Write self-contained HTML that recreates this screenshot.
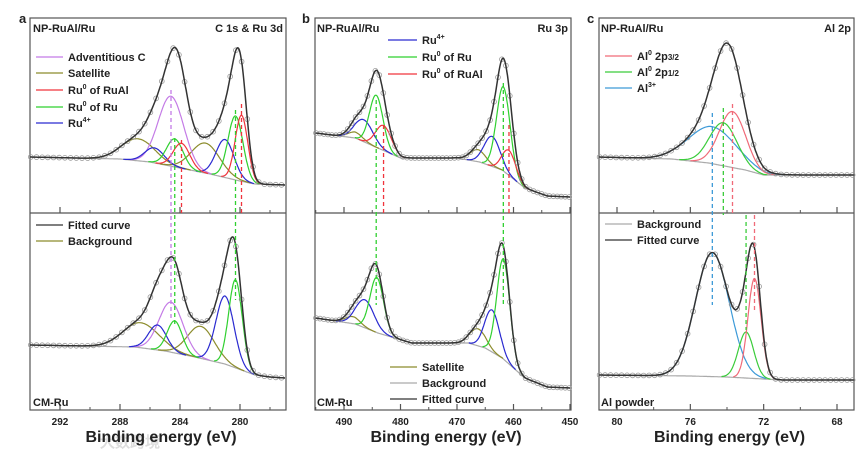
<!DOCTYPE html>
<html><head><meta charset="utf-8">
<style>
html,body{margin:0;padding:0;background:#fff;}
svg{display:block;font-family:"Liberation Sans",Arial,sans-serif;}
text{font-weight:bold;fill:#222;}
</style></head>
<body>
<svg id="fig" width="861" height="455" viewBox="0 0 861 455" xmlns="http://www.w3.org/2000/svg">
<text x="100" y="447" font-size="15" style="fill:#ddd">大数跨境</text>
</svg>
<script>
// ---------- DATA (intensity in arbitrary units) ----------
const aTopBgE = [294, 288, 286, 284, 282, 280, 279, 277];
const aTopBgI = [43, 41, 38, 32, 26, 19, 16, 15];
const aTopAdv = [[284.6, 70, 0.85]];
const aTopSat = [[286.8, 22, 1.1], [282.3, 30, 0.95]];
const aTopRuAl = [[283.9, 25, 0.55], [279.9, 66, 0.42]];
const aTopRu = [[284.35, 28, 0.55], [280.3, 64, 0.5]];
const aTopRu4 = [[285.7, 15, 0.65], [281.0, 38, 0.6]];
const aBotBgE = [294, 287, 285, 283, 281, 279, 278, 277];
const aBotBgI = [55, 53, 49, 43, 36, 25, 23, 22];
const aBotAdv = [[284.6, 50, 0.8]];
const aBotSat = [[286.6, 25, 1.2], [282.6, 32, 0.9]];
const aBotRu = [[284.35, 32, 0.5], [280.3, 88, 0.45]];
const aBotRu4 = [[285.5, 25, 0.6], [281.0, 68, 0.6]];
const bTopBgE = [495, 488, 484, 480, 470, 466, 462, 458, 454, 450];
const bTopBgI = [67, 62, 52, 42, 42, 38, 30, 12, 4, 3];
const bTopRu4 = [[486.5, 22, 1.6], [463.8, 30, 1.4]];
const bTopRu = [[484.3, 52, 1.2], [461.8, 84, 1.2]];
const bTopRuAl = [[483.0, 25, 1.4], [460.8, 25, 1.2]];
const bTopSat = [[488.0, 6, 1.3], [466.3, 12, 1.4]];
const bBotBgE = [495, 488, 484, 478, 468, 465, 462, 458, 454, 450];
const bBotBgI = [82, 76, 67, 57, 57, 52, 42, 22, 13, 12];
const bBotRu4 = [[486.3, 28, 1.6], [463.8, 42, 1.3]];
const bBotRu = [[484.2, 55, 1.2], [461.8, 100, 1.15]];
const bBotSat = [[488.5, 7, 1.3], [466.3, 17, 1.4]];
const cTopBgE = [81, 77, 75, 73, 72, 70, 67];
const cTopBgI = [43, 41, 37, 30, 25, 25, 25];
const cTopAl3 = [[74.8, 37, 1.3]];
const cTopAl12 = [[74.2, 43, 0.75]];
const cTopAl32 = [[73.7, 56, 0.72]];
const cBotBgE = [81, 76, 74, 72, 71, 67];
const cBotBgI = [25, 24, 23, 21, 20, 20];
const cBotAl3 = [[74.8, 124, 0.92]];
const cBotAl12 = [[72.96, 46, 0.42]];
const cBotAl32 = [[72.5, 100, 0.36]];
const aTicks = [292, 288, 284, 280], aMinor = [290, 286, 282, 278];
const bTicks = [490, 480, 470, 460, 450], bMinor = [495, 485, 475, 465, 455];
const cTicks = [80, 76, 72, 68], cMinor = [78, 74, 70];

// ---------- RENDERING ----------
const NS = "http://www.w3.org/2000/svg";
const svg = document.getElementById("fig");
function mk(tag, attrs, parent) {
  const e = document.createElementNS(NS, tag);
  for (const k in attrs) e.setAttribute(k, attrs[k]);
  (parent || svg).appendChild(e);
  return e;
}
function gauss(list, E) { let s = 0; for (const p of list) s += p[1] * Math.exp(-((E - p[0]) ** 2) / (2 * p[2] * p[2])); return s; }
function bgAt(bE, bI, E) {
  for (let i = 0; i < bE.length - 1; i++) {
    const a = bE[i], b = bE[i + 1];
    if ((E <= a && E >= b) || (E >= a && E <= b)) { const t = (E - a) / (b - a); return bI[i] + t * (bI[i + 1] - bI[i]); }
  }
  return E > bE[0] ? bI[0] : bI[bI.length - 1];
}
const COL = { adv: "#c47be6", sat: "#8c8c2c", rual: "#f0343c", ru: "#2fd02f", ru4: "#2a2ad0", bg: "#aaaaaa", fit: "#333", al3: "#3d9ad8", al12: "#3bcc3b", al32: "#f06a78" };

function makeX(E0, px0, E1, px1) { return E => px0 + (E - E0) * (px1 - px0) / (E1 - E0); }

function sub(opt) {
  const { xs, eL, eR, yBase, bE, bI, comps, step, nameP } = opt;
  const y = v => yBase - v;
  const g = mk("g", {});
  
  
  const Es = [];
  for (let E = eL; E >= eR - 1e-9; E -= 0.002 * (eL - eR)) Es.push(E);
  let d = Es.map((E, i) => (i ? "L" : "M") + xs(E).toFixed(1) + " " + y(bgAt(bE, bI, E)).toFixed(1)).join(" ");
  const bgp = mk("path", { d, fill: "none", stroke: COL.bg, "stroke-width": 1.2 }, g);
  
  
  for (const c of comps) {
    for (const p of c.list) {
      const pts = Es.filter(E => Math.abs(E - p[0]) < 3.2 * p[2] + 0.01);
      const dd = pts.map((E, i) => (i ? "L" : "M") + xs(E).toFixed(1) + " " + y(bgAt(bE, bI, E) + gauss([p], E)).toFixed(1)).join(" ");
      const cp = mk("path", { d: dd, fill: "none", stroke: c.color, "stroke-width": 1.2 }, g);
      
      
    }
  }
  const total = E => { let s = bgAt(bE, bI, E); for (const c of comps) s += gauss(c.list, E); return s; };
  for (let E = eL - 0.05; E >= eR; E -= step) {
    const ci = mk("circle", { cx: xs(E).toFixed(1), cy: y(total(E)).toFixed(1), r: 2.4, fill: "none", stroke: "#999", "stroke-width": 0.8 }, g);
    
    
  }
  d = Es.map((E, i) => (i ? "L" : "M") + xs(E).toFixed(1) + " " + y(total(E)).toFixed(1)).join(" ");
  const fp = mk("path", { d, fill: "none", stroke: COL.fit, "stroke-width": 1.5 }, g);
  
  
}

function dash(x, y1, y2, color, name) {
  const l = mk("line", { x1: x, x2: x, y1, y2, stroke: color, "stroke-width": 1.3, "stroke-dasharray": "4,3" });
  
  
}
function txt(x, y, s, size, anchor, name, html) {
  const t = mk("text", { x, y, "font-size": size, "text-anchor": anchor || "start" });
  if (html) t.innerHTML = s; else t.textContent = s;
  
  
  return t;
}
function legend(x1, x2, yy, color, label, name) {
  const l = mk("line", { x1, x2, y1: yy, y2: yy, stroke: color, "stroke-width": 1.3 });
  
  
  txt(x2 + 5, yy + 4, label, 11, "start", name, true);
}
function frame(L, R, xs, ticks, minor, name) {
  const r = mk("rect", { x: L, y: 18, width: R - L, height: 392, fill: "none", stroke: "#555", "stroke-width": 1.2 });
  
  
  const m = mk("line", { x1: L, x2: R, y1: 213, y2: 213, stroke: "#555", "stroke-width": 1.2 });
  
  
  for (const yy of [213, 410]) {
    for (const t of ticks) { const tk = mk("line", { x1: xs(t), x2: xs(t), y1: yy, y2: yy - 6, stroke: "#555", "stroke-width": 1.2 });   }
    for (const t of minor) { const tk = mk("line", { x1: xs(t), x2: xs(t), y1: yy, y2: yy - 3, stroke: "#555", "stroke-width": 1 });   }
  }
  for (const t of ticks) txt(xs(t), 425, String(t), 10, "middle", name + '-tick-label');
  txt((L + R) / 2 + 3, 442, "Binding energy (eV)", 16, "middle", name + '-x-axis-title');
}

// ---- Panel a ----
const xa = makeX(292, 60, 280, 240);
frame(30, 286, xa, aTicks, aMinor, "panel-a");
sub({ xs: xa, eL: 294, eR: 277, yBase: 200, bE: aTopBgE, bI: aTopBgI, step: 0.38, nameP: "a-top",
  comps: [{ list: aTopSat, color: COL.sat, name: "satellite" }, { list: aTopAdv, color: COL.adv, name: "adventitious-c" }, { list: aTopRu4, color: COL.ru4, name: "ru4" }, { list: aTopRu, color: COL.ru, name: "ru0-ru" }, { list: aTopRuAl, color: COL.rual, name: "ru0-rual" }] });
sub({ xs: xa, eL: 294, eR: 277, yBase: 400, bE: aBotBgE, bI: aBotBgI, step: 0.38, nameP: "a-bottom",
  comps: [{ list: aBotSat, color: COL.sat, name: "satellite" }, { list: aBotAdv, color: COL.adv, name: "adventitious-c" }, { list: aBotRu4, color: COL.ru4, name: "ru4" }, { list: aBotRu, color: COL.ru, name: "ru0-ru" }] });
dash(xa(aTopAdv[0][0]), 90, 318, COL.adv, "a-adv-c-guide");
dash(xa(aTopRu[0][0]), 138, 325, COL.ru, "a-ru0-ru-guide-1");
dash(xa(aTopRuAl[0][0]), 140, 213, COL.rual, "a-ru0-rual-guide-1");
dash(xa(aTopRu[1][0]), 110, 300, COL.ru, "a-ru0-ru-guide-2");
dash(xa(aTopRuAl[1][0]), 104, 213, COL.rual, "a-ru0-rual-guide-2");
txt(19, 23, "a", 13, "start", "panel-a-letter");
txt(33, 32, "NP-RuAl/Ru", 11, "start", "a-top-sample-label");
txt(283, 32, "C 1s &amp; Ru 3d", 11, "end", "a-region-label", true);
txt(33, 406, "CM-Ru", 11, "start", "a-bottom-sample-label");
legend(36, 63, 57, COL.adv, "Adventitious C", "legend-adventitious-c");
legend(36, 63, 73, COL.sat, "Satellite", "legend-satellite");
legend(36, 63, 90, COL.rual, "Ru<tspan font-size='7' dy='-5'>0</tspan><tspan dy='5'> of RuAl</tspan>", "legend-ru0-rual");
legend(36, 63, 107, COL.ru, "Ru<tspan font-size='7' dy='-5'>0</tspan><tspan dy='5'> of Ru</tspan>", "legend-ru0-ru");
legend(36, 63, 123, COL.ru4, "Ru<tspan font-size='7' dy='-5'>4+</tspan>", "legend-ru4");
legend(36, 63, 225, COL.fit, "Fitted curve", "legend-fitted-curve");
legend(36, 63, 241, COL.sat, "Background", "legend-background");

// ---- Panel b ----
const xb = makeX(490, 344, 450, 570);
frame(315, 571, xb, bTicks, bMinor, "panel-b");
sub({ xs: xb, eL: 495, eR: 450, yBase: 200, bE: bTopBgE, bI: bTopBgI, step: 0.7, nameP: "b-top",
  comps: [{ list: bTopSat, color: COL.sat, name: "satellite" }, { list: bTopRu4, color: COL.ru4, name: "ru4" }, { list: bTopRu, color: COL.ru, name: "ru0-ru" }, { list: bTopRuAl, color: COL.rual, name: "ru0-rual" }] });
sub({ xs: xb, eL: 495, eR: 450, yBase: 400, bE: bBotBgE, bI: bBotBgI, step: 0.7, nameP: "b-bottom",
  comps: [{ list: bBotSat, color: COL.sat, name: "satellite" }, { list: bBotRu4, color: COL.ru4, name: "ru4" }, { list: bBotRu, color: COL.ru, name: "ru0-ru" }] });
dash(xb(bTopRu[0][0]), 100, 305, COL.ru, "b-ru0-ru-guide-1");
dash(xb(bTopRuAl[0][0]), 125, 213, COL.rual, "b-ru0-rual-guide-1");
dash(xb(bTopRu[1][0]), 83, 307, COL.ru, "b-ru0-ru-guide-2");
dash(xb(bTopRuAl[1][0]), 125, 213, COL.rual, "b-ru0-rual-guide-2");
txt(302, 23, "b", 13, "start", "panel-b-letter");
txt(317, 32, "NP-RuAl/Ru", 11, "start", "b-top-sample-label");
txt(568, 32, "Ru 3p", 11, "end", "b-region-label");
txt(317, 406, "CM-Ru", 11, "start", "b-bottom-sample-label");
legend(388, 417, 40, COL.ru4, "Ru<tspan font-size='7' dy='-5'>4+</tspan>", "legend-b-ru4");
legend(388, 417, 57, COL.ru, "Ru<tspan font-size='7' dy='-5'>0</tspan><tspan dy='5'> of Ru</tspan>", "legend-b-ru0-ru");
legend(388, 417, 74, COL.rual, "Ru<tspan font-size='7' dy='-5'>0</tspan><tspan dy='5'> of RuAl</tspan>", "legend-b-ru0-rual");
legend(390, 417, 367, COL.sat, "Satellite", "legend-b-satellite");
legend(390, 417, 383, COL.bg, "Background", "legend-b-background");
legend(390, 417, 399, COL.fit, "Fitted curve", "legend-b-fitted-curve");

// ---- Panel c ----
const xc = makeX(80, 617, 68, 837);
frame(599, 854, xc, cTicks, cMinor, "panel-c");
sub({ xs: xc, eL: 81, eR: 67.1, yBase: 200, bE: cTopBgE, bI: cTopBgI, step: 0.3, nameP: "c-top",
  comps: [{ list: cTopAl3, color: COL.al3, name: "al3" }, { list: cTopAl12, color: COL.al12, name: "al0-2p12" }, { list: cTopAl32, color: COL.al32, name: "al0-2p32" }] });
sub({ xs: xc, eL: 81, eR: 67.1, yBase: 400, bE: cBotBgE, bI: cBotBgI, step: 0.3, nameP: "c-bottom",
  comps: [{ list: cBotAl3, color: COL.al3, name: "al3" }, { list: cBotAl12, color: COL.al12, name: "al0-2p12" }, { list: cBotAl32, color: COL.al32, name: "al0-2p32" }] });
dash(xc(cTopAl3[0][0]), 113, 305, COL.al3, "c-al3-guide");
dash(xc(cTopAl12[0][0]), 108, 215, COL.al12, "c-al12-guide-top");
dash(xc(cTopAl32[0][0]), 104, 215, COL.al32, "c-al32-guide-top");
dash(xc(cBotAl12[0][0]), 215, 330, COL.al12, "c-al12-guide-bottom");
dash(xc(cBotAl32[0][0]), 215, 310, COL.al32, "c-al32-guide-bottom");
txt(587, 23, "c", 13, "start", "panel-c-letter");
txt(601, 32, "NP-RuAl/Ru", 11, "start", "c-top-sample-label");
txt(851, 32, "Al 2p", 11, "end", "c-region-label");
txt(601, 406, "Al powder", 11, "start", "c-bottom-sample-label");
legend(605, 632, 56, COL.al32, "Al<tspan font-size='7' dy='-5'>0</tspan><tspan dy='5'> 2p</tspan><tspan font-size='8'>3/2</tspan>", "legend-al0-2p32");
legend(605, 632, 72, COL.al12, "Al<tspan font-size='7' dy='-5'>0</tspan><tspan dy='5'> 2p</tspan><tspan font-size='8'>1/2</tspan>", "legend-al0-2p12");
legend(605, 632, 88, COL.al3, "Al<tspan font-size='7' dy='-5'>3+</tspan>", "legend-al3");
legend(605, 632, 224, COL.bg, "Background", "legend-c-background");
legend(605, 632, 240, COL.fit, "Fitted curve", "legend-c-fitted-curve");
</script>
</body></html>
